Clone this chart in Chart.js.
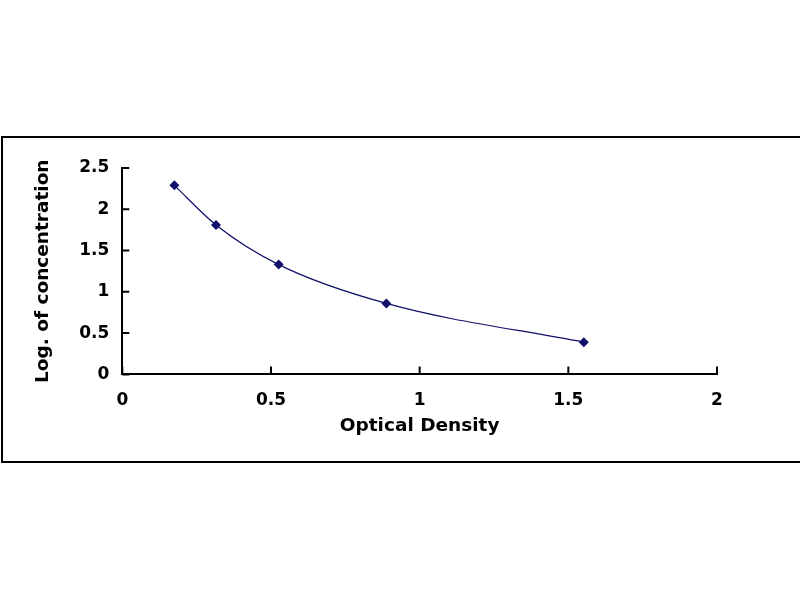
<!DOCTYPE html>
<html>
<head>
<meta charset="utf-8">
<script src="https://cdn.jsdelivr.net/npm/chart.js@4"></script>
<style>
  body { margin: 0; background: #fff; width: 800px; height: 600px; overflow: hidden; position: relative; }
  #frame { position: absolute; left: 1px; top: 136px; width: 810px; height: 327px; border: 2px solid #000; box-sizing: border-box; }
  #wrap { position: absolute; left: 0; top: 0; width: 800px; height: 600px; }
</style>
</head>
<body>
<div id="frame"></div>
<div id="wrap"><canvas id="myChart" width="800" height="600"></canvas></div>
<script>
const ctx = document.getElementById('myChart')

// optical density vs log concentration
const odValues = [0.175, 0.315, 0.526, 0.888, 1.552]
const logConc = [2.29, 1.81, 1.33, 0.86, 0.39]
const xTicks = [0, 0.5, 1, 1.5, 2]
const yTicks = [0, 0.5, 1, 1.5, 2, 2.5]

const navy = '#10106a'
const font = { family: 'DejaVu Sans', size: 17, weight: 'bold' }
const titleFont = { family: 'DejaVu Sans', size: 18.5, weight: 'bold' }

// ticks point into the plot, like the original
const innerTicks = {
    id: 'innerTicks',
    afterDraw(chart) {
        const c = chart.ctx
        const x = chart.scales.x
        const y = chart.scales.y
        c.save()
        c.strokeStyle = '#000'
        c.lineWidth = 2
        c.beginPath()
        xTicks.forEach(v => {
            const px = x.getPixelForValue(v)
            c.moveTo(px, y.bottom)
            c.lineTo(px, y.bottom - 8)
        })
        yTicks.forEach(v => {
            const py = y.getPixelForValue(v)
            c.moveTo(x.left, py)
            c.lineTo(x.left + 7, py)
        })
        c.stroke()
        c.restore()
    }
}

new Chart(ctx, {
    type: 'scatter',
    data: {
        datasets: [{
            data: odValues.map((v, i) => ({ x: v, y: logConc[i] })),
            showLine: true,
            cubicInterpolationMode: 'monotone',
            borderColor: navy,
            borderWidth: 1.2,
            backgroundColor: navy,
            pointStyle: 'rectRot',
            pointRadius: 5,
            pointBorderWidth: 0
        }]
    },
    options: {
        responsive: false,
        animation: false,
        layout: { padding: { left: 28, top: 168, right: 83, bottom: 163 } },
        plugins: { legend: { display: false }, tooltip: { enabled: false } },
        scales: {
            x: {
                type: 'linear',
                min: 0,
                max: 2,
                afterBuildTicks: s => { s.ticks = xTicks.map(v => ({ value: v })) },
                grid: { display: false, drawTicks: false },
                border: { color: '#000', width: 2 },
                ticks: { color: '#000', font: font, padding: 16, callback: v => v },
                title: { display: true, text: 'Optical Density', color: '#000', font: titleFont, padding: { top: -12, bottom: 0 } }
            },
            y: {
                type: 'linear',
                min: 0,
                max: 2.5,
                afterBuildTicks: s => { s.ticks = yTicks.map(v => ({ value: v })) },
                grid: { display: false, drawTicks: false },
                border: { color: '#000', width: 2 },
                ticks: { color: '#000', font: font, padding: 13, callback: v => v },
                title: { display: true, text: 'Log. of concentration', color: '#000', font: titleFont, padding: { bottom: 12 } }
            }
        }
    },
    plugins: [innerTicks]
});
</script>
</body>
</html>
